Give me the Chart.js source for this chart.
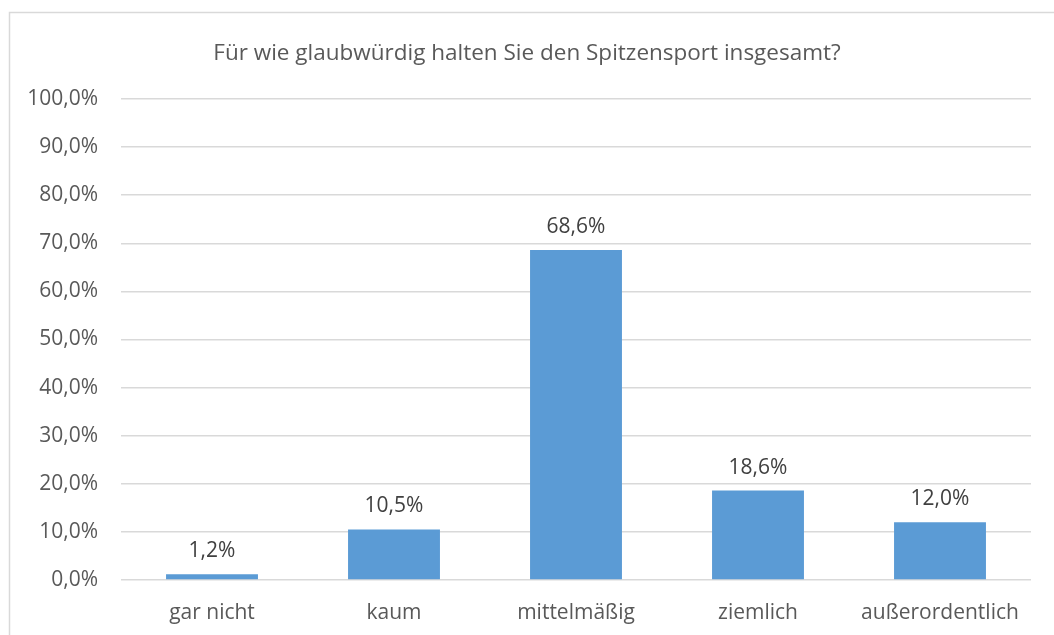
<!DOCTYPE html>
<html lang="de">
<head>
<meta charset="utf-8">
<title>Glaubwürdigkeit Spitzensport</title>
<script src="https://cdn.jsdelivr.net/npm/chart.js@4/dist/chart.umd.min.js"></script>
<style>
    html, body { margin: 0; padding: 0; background: #ffffff; }
    #wrap { width: 1054px; height: 635px; }
</style>
</head>
<body>
<div id="wrap"><canvas id="chart" width="1054" height="635"></canvas></div>
<script>
// ================= DATA =================
const categories = ["gar nicht", "kaum", "mittelmäßig", "ziemlich", "außerordentlich"];
const shares = [1.2, 10.5, 68.6, 18.6, 12.0];
const yTicks = [0, 10, 20, 30, 40, 50, 60, 70, 80, 90, 100];

const FONT = "'Open Sans', sans-serif";
const TEXT = "#595959";

function pct(v) {
    return v.toFixed(1).replace(".", ",") + "%";
}

// ================= PLUGINS =================
// light frame round the chart (left and top edge only are visible)
const frame = {
    id: "frame",
    beforeDraw(chart) {
        const ctx = chart.ctx;
        ctx.save();
        ctx.fillStyle = "#ffffff";
        ctx.fillRect(0, 0, chart.width, chart.height);
        ctx.strokeStyle = "#d9d9d9";
        ctx.lineWidth = 1.5;
        ctx.beginPath();
        ctx.moveTo(9.5, chart.height);
        ctx.lineTo(9.5, 12.5);
        ctx.lineTo(chart.width, 12.5);
        ctx.stroke();
        ctx.restore();
    }
};

// value labels above the bars
const valueLabels = {
    id: "valueLabels",
    afterDatasetsDraw(chart) {
        const ctx = chart.ctx;
        const meta = chart.getDatasetMeta(0);
        ctx.save();
        ctx.font = "21px " + FONT;
        ctx.fillStyle = "#404040";
        ctx.textAlign = "center";
        ctx.textBaseline = "alphabetic";
        meta.data.forEach((bar, i) => {
            ctx.fillText(pct(shares[i]), bar.x, bar.y - 17);
        });
        ctx.restore();
    }
};

// ================= CHART =================
const ctx = document.getElementById("chart").getContext("2d");
new Chart(ctx, {
    type: "bar",
    data: {
        labels: categories,
        datasets: [{
            data: shares,
            backgroundColor: "#5b9bd5",
            borderWidth: 0,
            categoryPercentage: 1,
            barPercentage: 0.505
        }]
    },
    options: {
        responsive: false,
        animation: false,
        devicePixelRatio: 1,
        layout: { padding: { left: 23, right: 23, top: 0, bottom: 0 } },
        plugins: {
            legend: { display: false },
            tooltip: { enabled: false },
            title: {
                display: true,
                text: "Für wie glaubwürdig halten Sie den Spitzensport insgesamt?",
                color: TEXT,
                font: { family: FONT, size: 22.5, weight: "normal" },
                padding: { top: 40, bottom: 32 }
            }
        },
        scales: {
            x: {
                grid: { display: false, drawTicks: false },
                border: { display: false },
                ticks: { color: TEXT, font: { family: FONT, size: 21 }, padding: 20 },
                afterFit(scale) { scale.height = 55; }
            },
            y: {
                min: 0,
                max: 100,
                afterBuildTicks(scale) {
                    scale.ticks = yTicks.map(v => ({ value: v }));
                },
                grid: { color: "#d9d9d9", lineWidth: 1.5, drawTicks: false },
                border: { display: false },
                ticks: {
                    color: TEXT,
                    font: { family: FONT, size: 21 },
                    padding: 23,
                    callback: v => pct(v)
                },
                afterFit(scale) { scale.width = 98; }
            }
        }
    },
    plugins: [frame, valueLabels]
});
</script>
</body>
</html>
